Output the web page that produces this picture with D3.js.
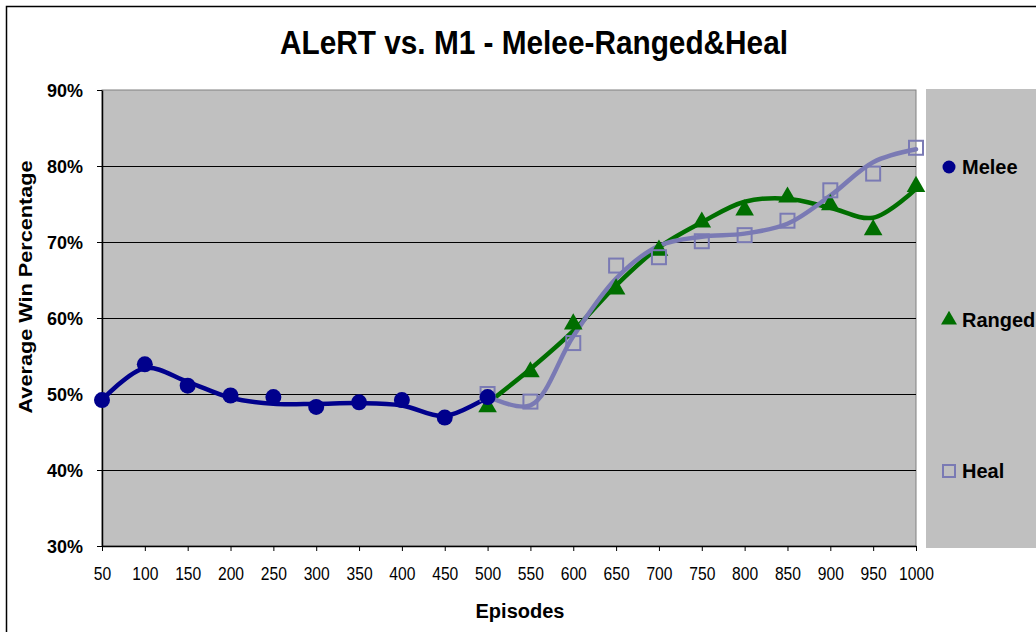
<!DOCTYPE html>
<html>
<head>
<meta charset="utf-8">
<script src="https://cdn.jsdelivr.net/npm/d3@7"></script>
<style>
  html, body { margin: 0; padding: 0; background: #fff; }
  svg { display: block; font-family: "Liberation Sans", Arial, sans-serif; }
</style>
</head>
<body>
<svg id="chart" width="1036" height="632"></svg>
<script>
// Episode categories along the x axis
const episodes = [50, 100, 150, 200, 250, 300, 350, 400, 450, 500,
                  550, 600, 650, 700, 750, 800, 850, 900, 950, 1000];
const yTicks = [0.3, 0.4, 0.5, 0.6, 0.7, 0.8, 0.9];

// Melee: episodes 50–500
const meleeEpisodes = [50, 100, 150, 200, 250, 300, 350, 400, 450, 500];
const meleeValues   = [49.2, 53.9, 51.1, 49.8, 49.6, 48.3, 48.9, 49.2, 46.9, 49.6];
const meleeCurve    = [49.2, 53.4, 51.6, 49.5, 48.7, 48.7, 48.8, 48.5, 47.1, 49.6];

// Ranged: episodes 500–1000
const rangedEpisodes = [500, 550, 600, 650, 700, 750, 800, 850, 900, 950, 1000];
const rangedValues   = [48.3, 52.9, 59.2, 63.8, 68.9, 72.6, 74.2, 75.9, 74.9, 71.6, 77.3];
const rangedCurve    = [48.8, 53.3, 58.3, 64.3, 69.3, 72.6, 75.3, 75.7, 74.5, 73.2, 77.0];

// Heal: episodes 500–1000
const healEpisodes = [500, 550, 600, 650, 700, 750, 800, 850, 900, 950, 1000];
const healValues   = [50.0, 49.0, 56.7, 66.9, 68.0, 70.1, 70.9, 72.8, 76.8, 79.0, 82.4];
const healCurve    = [49.7, 48.5, 57.6, 65.2, 69.5, 70.7, 71.1, 72.4, 76.1, 80.5, 82.2];

const colors = { melee: "#00008c", ranged: "#006e00", heal: "#7a7ab4" };

const svg = d3.select("#chart");
const plot = { left: 102, right: 916, top: 90, bottom: 546 };

// Outer chart frame
svg.append("rect").attr("x", 6.5).attr("y", 6.5).attr("width", 1100).attr("height", 700)
  .attr("fill", "#fff").attr("stroke", "#000").attr("stroke-width", 1.5);

const x = d3.scalePoint().domain(episodes).range([plot.left, plot.right]);
const y = d3.scaleLinear().domain([0.3, 0.9]).range([plot.bottom, plot.top]);

// Plot background
svg.append("rect").attr("x", plot.left).attr("y", plot.top)
  .attr("width", plot.right - plot.left).attr("height", plot.bottom - plot.top)
  .attr("fill", "#c0c0c0").attr("stroke", "#808080").attr("stroke-width", 1);

// Legend panel
svg.append("rect").attr("x", 926).attr("y", 89).attr("width", 120).attr("height", 459)
  .attr("fill", "#c0c0c0");

// Gridlines
svg.append("g").selectAll("line").data(yTicks.slice(1, -1)).join("line")
  .attr("x1", plot.left).attr("x2", plot.right)
  .attr("y1", d => Math.round(y(d)) + 0.5).attr("y2", d => Math.round(y(d)) + 0.5)
  .attr("stroke", "#000").attr("stroke-width", 1);

// Y axis
const yAxis = svg.append("g").attr("transform", `translate(${plot.left},0)`)
  .call(d3.axisLeft(y).tickValues(yTicks).tickFormat(d3.format(".0%"))
    .tickSize(5).tickSizeOuter(0).tickPadding(14));
yAxis.select(".domain").attr("stroke", "#000").attr("stroke-width", 1.5);
yAxis.selectAll(".tick line").attr("stroke", "#000");
yAxis.selectAll("text").attr("font-size", 19).attr("font-weight", "bold").attr("fill", "#000")
  .attr("textLength", 36).attr("lengthAdjust", "spacingAndGlyphs");

// X axis
const xAxis = svg.append("g").attr("transform", `translate(0,${plot.bottom})`)
  .call(d3.axisBottom(x).tickSize(5).tickSizeOuter(0).tickPadding(16));
xAxis.select(".domain").attr("stroke", "#000").attr("stroke-width", 1.5);
xAxis.selectAll(".tick line").attr("stroke", "#000");
xAxis.selectAll("text").attr("font-size", 18).attr("fill", "#000")
  .attr("textLength", d => String(d).length * 8.7).attr("lengthAdjust", "spacingAndGlyphs");

// Smoothed series lines
const line = d3.line().x(d => x(d[0])).y(d => y(d[1] / 100)).curve(d3.curveCatmullRom.alpha(0.5));
const zip = (a, b) => a.map((v, i) => [v, b[i]]);

const series = [
  { key: "ranged", eps: rangedEpisodes, vals: rangedValues, curve: rangedCurve },
  { key: "heal",   eps: healEpisodes,   vals: healValues,   curve: healCurve },
  { key: "melee",  eps: meleeEpisodes,  vals: meleeValues,  curve: meleeCurve }
];

series.forEach(s => {
  svg.append("path").datum(zip(s.eps, s.curve)).attr("d", line)
    .attr("fill", "none").attr("stroke", colors[s.key]).attr("stroke-width", 4.5)
    .attr("stroke-linejoin", "round").attr("stroke-linecap", "round");
});

// Markers
const triangle = d3.symbol().type(d3.symbolTriangle).size(150);
function drawMarker(g, key, cx, cy) {
  if (key === "melee") {
    g.append("circle").attr("cx", cx).attr("cy", cy).attr("r", 8).attr("fill", colors.melee);
  } else if (key === "ranged") {
    g.append("path").attr("d", triangle()).attr("transform", `translate(${cx},${cy})`)
      .attr("fill", colors.ranged);
  } else {
    g.append("rect").attr("x", cx - 7).attr("y", cy - 7).attr("width", 14).attr("height", 14)
      .attr("fill", "none").attr("stroke", colors.heal).attr("stroke-width", 2);
  }
}
series.forEach(s => {
  const g = svg.append("g");
  s.eps.forEach((e, i) => drawMarker(g, s.key, x(e), y(s.vals[i] / 100)));
});

// Legend
const legend = [
  { key: "melee", label: "Melee", y: 167 },
  { key: "ranged", label: "Ranged", y: 320 },
  { key: "heal", label: "Heal", y: 471 }
];
legend.forEach(l => {
  const g = svg.append("g");
  if (l.key === "melee") {
    g.append("circle").attr("cx", 949).attr("cy", l.y).attr("r", 6.5).attr("fill", colors.melee);
  } else if (l.key === "ranged") {
    g.append("path").attr("d", d3.symbol().type(d3.symbolTriangle).size(110)())
      .attr("transform", `translate(949,${l.y})`).attr("fill", colors.ranged);
  } else {
    g.append("rect").attr("x", 943).attr("y", l.y - 6).attr("width", 12).attr("height", 12)
      .attr("fill", "none").attr("stroke", colors.heal).attr("stroke-width", 2);
  }
  g.append("text").attr("x", 962).attr("y", l.y + 7).attr("font-size", 20)
    .attr("font-weight", "bold").attr("fill", "#000").text(l.label);
});

// Title and axis titles
svg.append("text").attr("x", 534).attr("y", 54).attr("text-anchor", "middle")
  .attr("font-size", 33).attr("font-weight", "bold").attr("fill", "#000")
  .attr("textLength", 508).attr("lengthAdjust", "spacingAndGlyphs")
  .text("ALeRT vs. M1 - Melee-Ranged&Heal");

svg.append("text").attr("x", 520).attr("y", 618).attr("text-anchor", "middle")
  .attr("font-size", 20).attr("font-weight", "bold").attr("fill", "#000")
  .attr("textLength", 89).attr("lengthAdjust", "spacingAndGlyphs")
  .text("Episodes");

svg.append("text").attr("transform", "translate(32,287) rotate(-90)")
  .attr("text-anchor", "middle").attr("font-size", 19).attr("font-weight", "bold").attr("fill", "#000")
  .attr("textLength", 253).attr("lengthAdjust", "spacingAndGlyphs")
  .text("Average Win Percentage");
</script>
</body>
</html>
